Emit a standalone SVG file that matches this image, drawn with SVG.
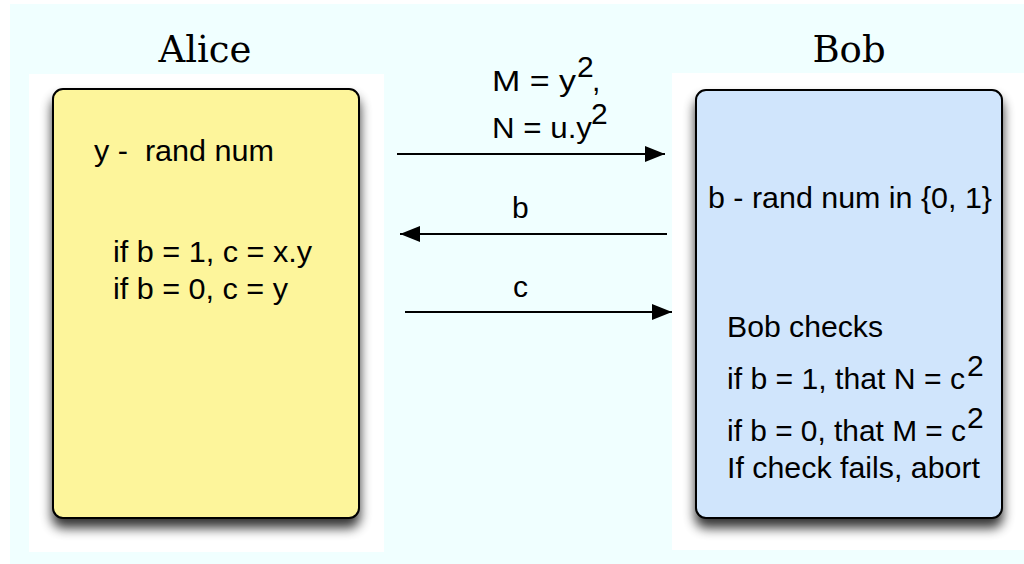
<svg xmlns="http://www.w3.org/2000/svg" width="1024" height="564" viewBox="0 0 1024 564">
  <style>
    .title { font-family: "DejaVu Serif", "Liberation Serif", serif; font-size: 37px; fill: #000; }
    .t { font-family: "Liberation Sans", Arial, sans-serif; font-size: 30px; fill: #000; }
    .box { stroke: #000; stroke-width: 2; }
    .conn { stroke: #000; stroke-width: 2; fill: none; }
  </style>
  <defs>
    <filter id="shadow" x="-20%" y="-20%" width="140%" height="140%">
      <feGaussianBlur in="SourceAlpha" stdDeviation="6"/>
      <feOffset dx="0" dy="9" result="b"/>
      <feComponentTransfer><feFuncA type="linear" slope="0.8"/></feComponentTransfer>
      <feMerge><feMergeNode/><feMergeNode in="SourceGraphic"/></feMerge>
    </filter>
    <marker id="arrow" viewBox="0 0 20 16" markerUnits="userSpaceOnUse" markerWidth="20" markerHeight="16" refX="20" refY="8" orient="auto">
      <path d="M0,0 L20,8 L0,16 z" fill="#000"/>
    </marker>
  </defs>

  <rect x="0" y="0" width="1024" height="564" fill="#ffffff"/>
  <rect x="10" y="4" width="1014" height="560" fill="#F0FFFF"/>
  <rect x="29" y="74" width="355" height="478" fill="#ffffff"/>
  <rect x="672" y="73" width="352" height="477" fill="#ffffff"/>

  <g id="alice">
    <text class="title" x="205" y="62" text-anchor="middle">Alice</text>
    <rect class="box" x="53" y="89" width="306" height="429" rx="10" fill="#FDF59B" filter="url(#shadow)"/>
    <text class="t" x="94" y="161" xml:space="preserve" textLength="180" lengthAdjust="spacingAndGlyphs">y -  rand num</text>
    <text class="t" x="113" y="262" textLength="199" lengthAdjust="spacingAndGlyphs">if b = 1, c = x.y</text>
    <text class="t" x="113" y="299" textLength="175" lengthAdjust="spacingAndGlyphs">if b = 0, c = y</text>
  </g>

  <g id="bob">
    <text class="title" x="849" y="62" text-anchor="middle">Bob</text>
    <rect class="box" x="696" y="90" width="306" height="428" rx="10" fill="#D0E5FC" filter="url(#shadow)"/>
    <text class="t" x="708" y="208" textLength="284" lengthAdjust="spacingAndGlyphs">b - rand num in {0, 1}</text>
    <text class="t" x="727" y="337" textLength="156" lengthAdjust="spacingAndGlyphs">Bob checks</text>
    <text class="t" x="727" y="389"><tspan textLength="238" lengthAdjust="spacingAndGlyphs">if b = 1, that N = c</tspan><tspan x="967" y="376">2</tspan></text>
    <text class="t" x="727" y="441"><tspan textLength="239" lengthAdjust="spacingAndGlyphs">if b = 0, that M = c</tspan><tspan x="967" y="428">2</tspan></text>
    <text class="t" x="727" y="478" textLength="253" lengthAdjust="spacingAndGlyphs">If check fails, abort</text>
  </g>

  <g id="connectors">
    <line class="conn" x1="397" y1="154" x2="665" y2="154" marker-end="url(#arrow)"/>
    <line class="conn" x1="667" y1="234" x2="400" y2="234" marker-end="url(#arrow)"/>
    <line class="conn" x1="405" y1="312" x2="672" y2="312" marker-end="url(#arrow)"/>
  </g>

  <g id="labels">
    <text class="t" x="492" y="91"><tspan textLength="84" lengthAdjust="spacingAndGlyphs">M = y</tspan><tspan x="577" y="77">2</tspan><tspan x="592" y="91">,</tspan></text>
    <text class="t" x="492" y="138"><tspan textLength="100" lengthAdjust="spacingAndGlyphs">N = u.y</tspan><tspan x="591" y="124">2</tspan></text>
    <text class="t" x="512" y="218">b</text>
    <text class="t" x="513" y="297">c</text>
  </g>
</svg>
